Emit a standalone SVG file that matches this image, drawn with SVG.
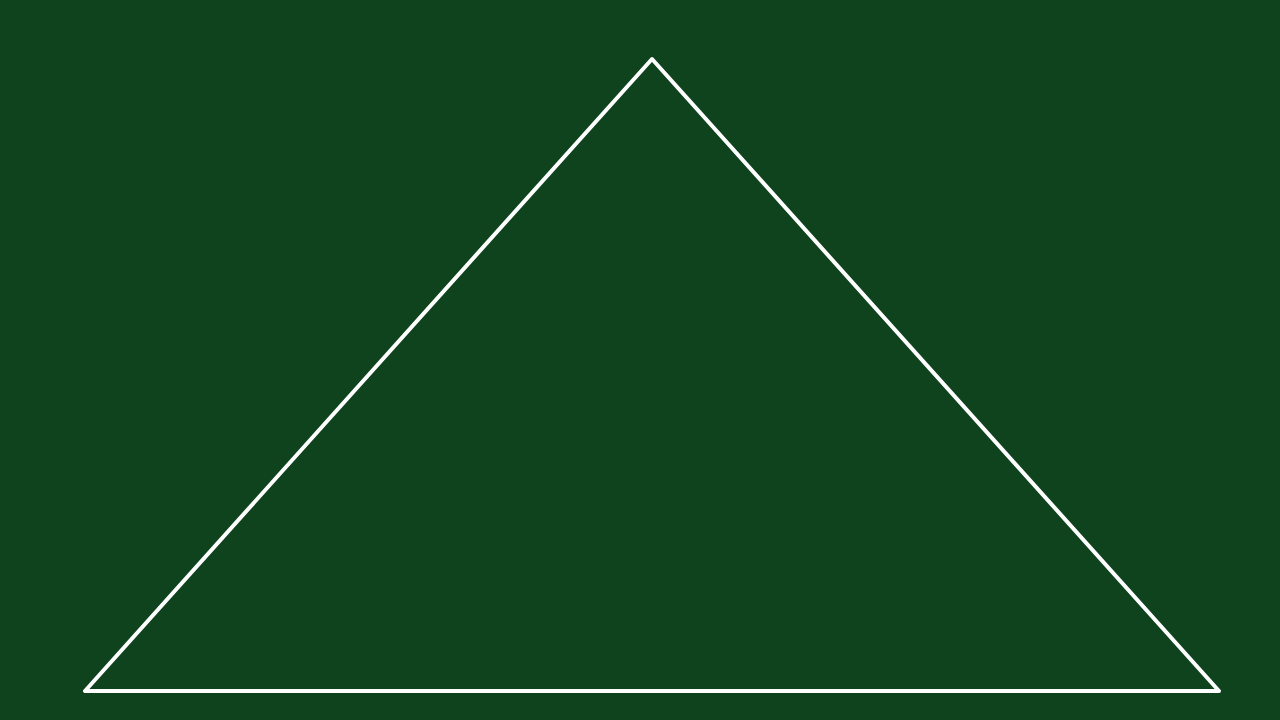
<svg xmlns="http://www.w3.org/2000/svg" width="1280" height="720" viewBox="0 0 1280 720">
<style>.tri{fill:none;stroke:#ffffff;stroke-width:4;stroke-linejoin:round}</style>
<rect width="1280" height="720" fill="#0f431e"/>
<g id="triangle">
<polygon class="tri" points="652,59 85,691 1219,691"/>
</g>
</svg>
